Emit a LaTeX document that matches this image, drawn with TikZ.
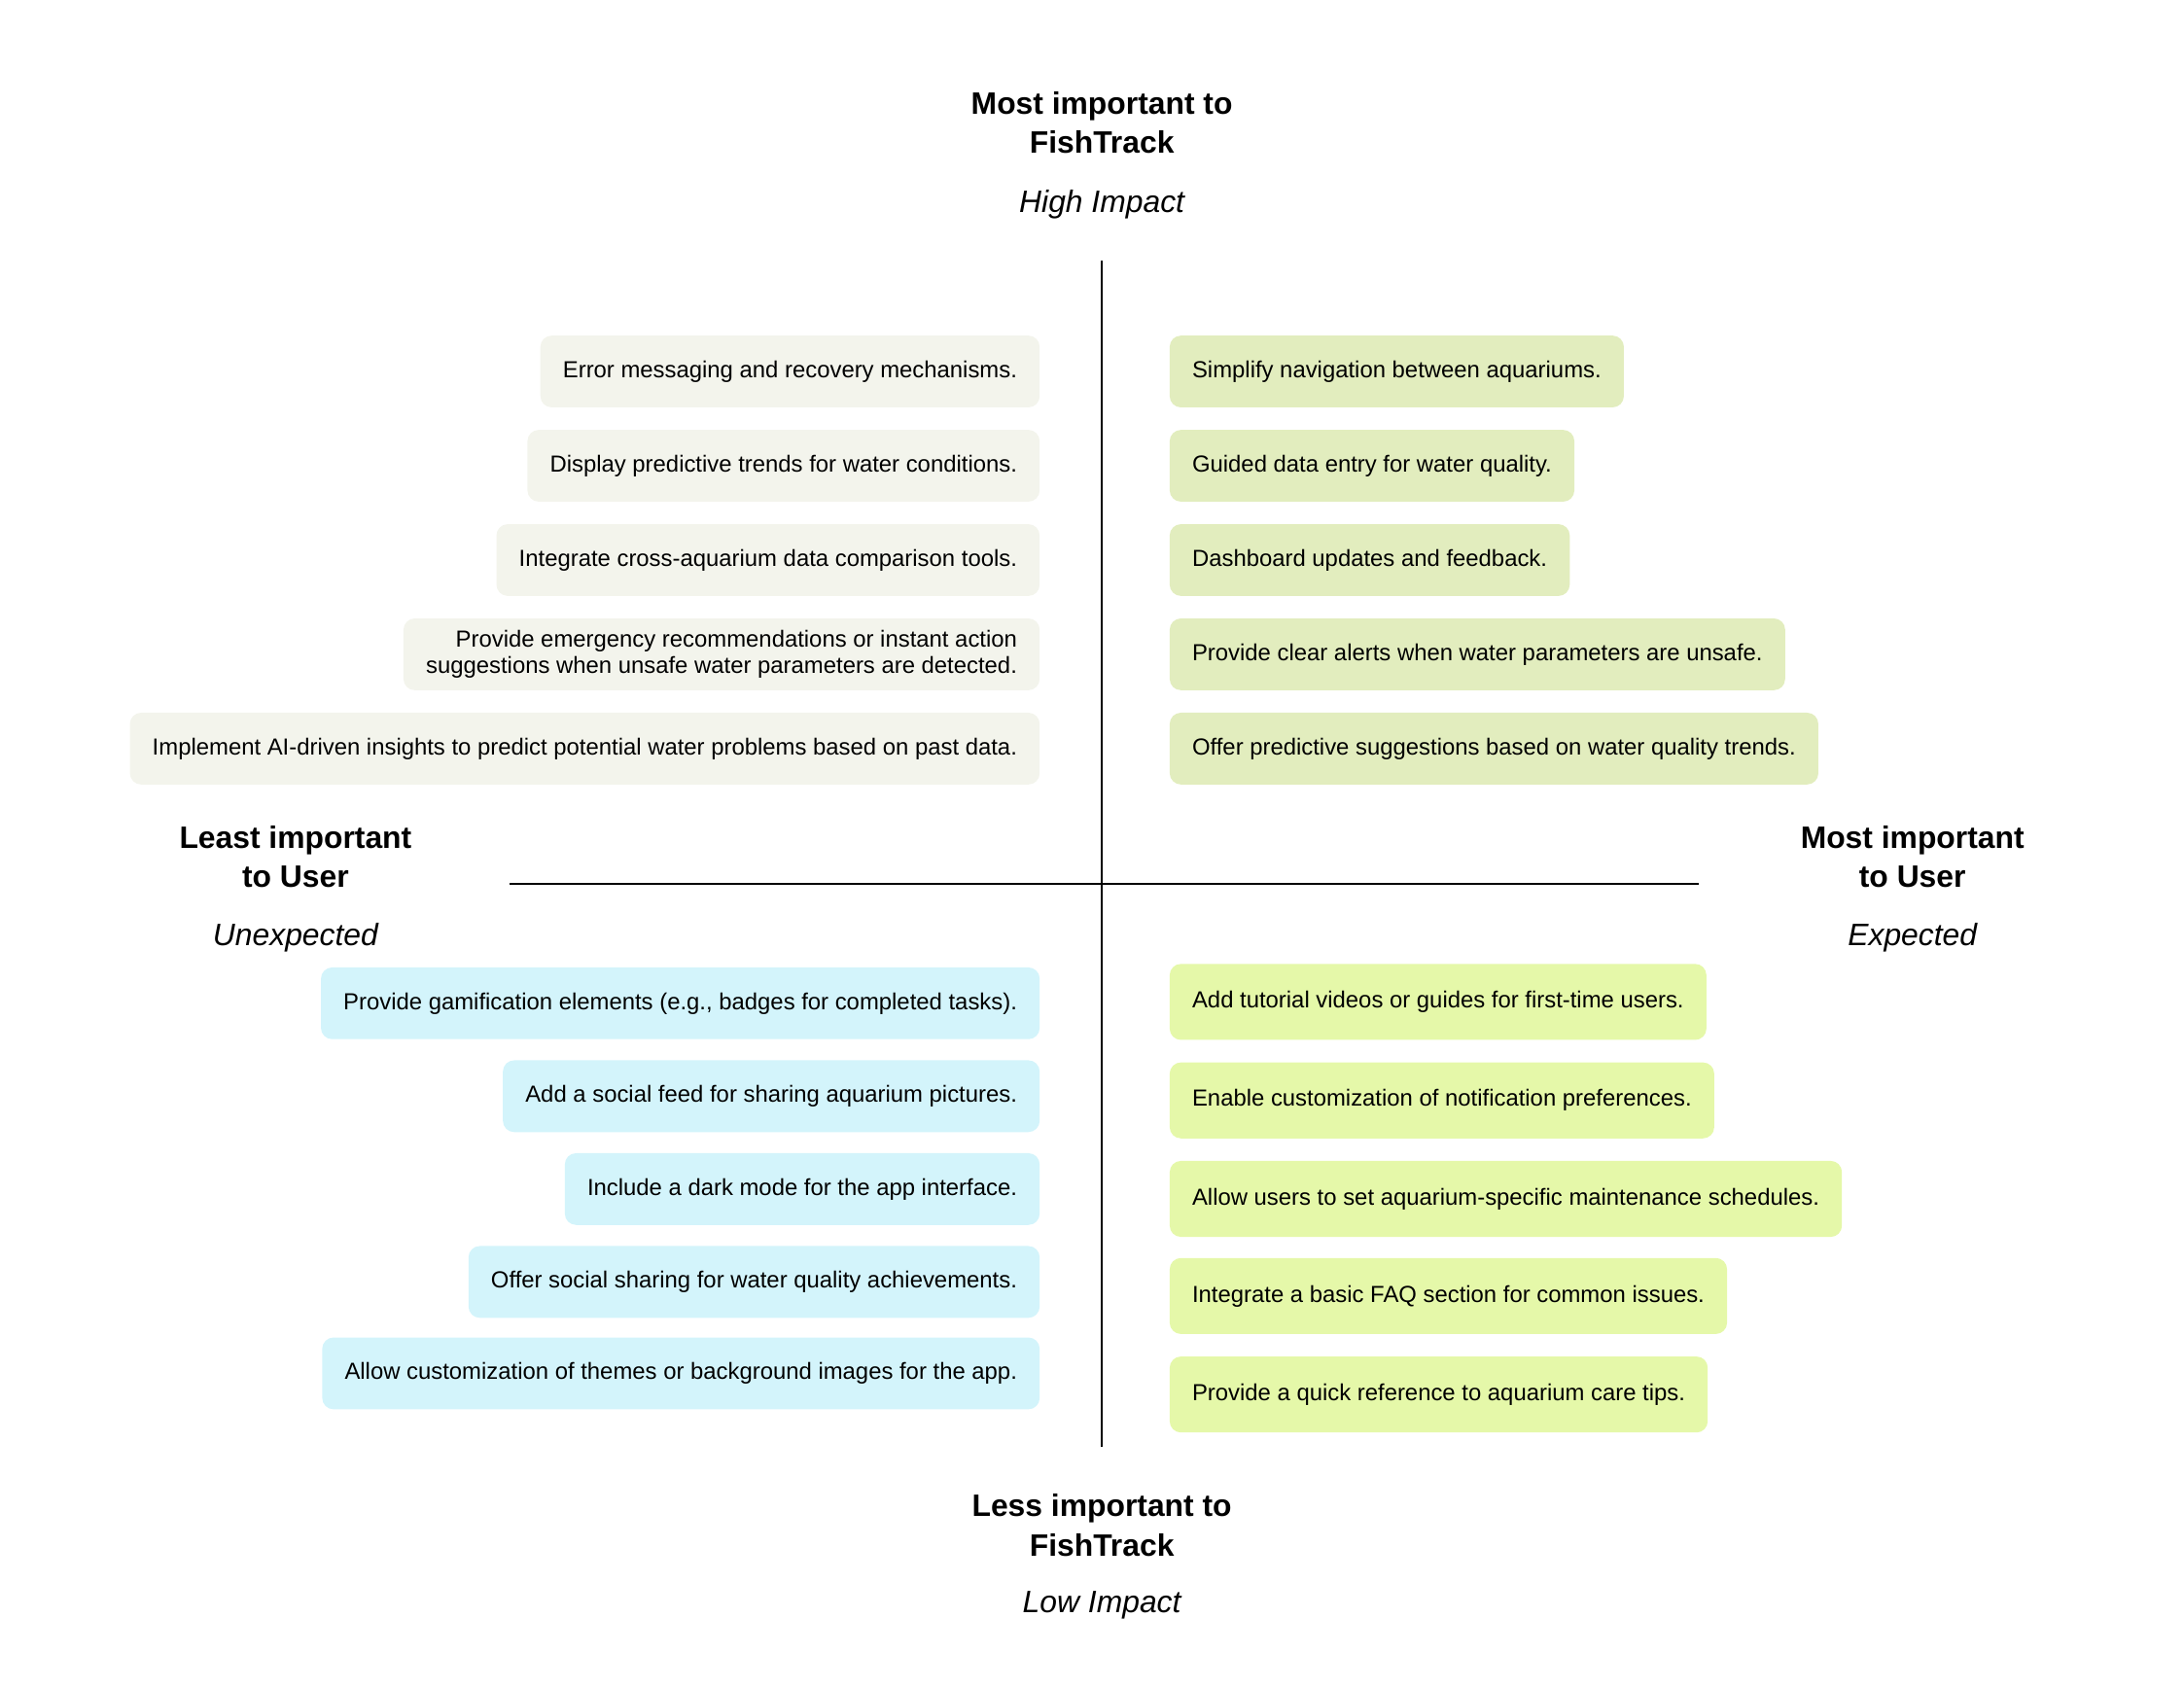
\documentclass[tikz,border=0pt]{standalone}
\usepackage{fontspec}
\setmainfont{Liberation Sans}
\usetikzlibrary{positioning}
\definecolor{paleleft}{HTML}{F3F4EC}
\definecolor{paleright}{HTML}{E2EDBE}
\definecolor{cyanleft}{HTML}{D3F4FB}
\definecolor{limeright}{HTML}{E5F8A9}
\tikzset{
  item/.style={rounded corners=8pt, inner xsep=16pt, minimum height=51pt,
    font=\fontsize{16.5}{19}\selectfont, align=right},
  hiwest/.style={item, anchor=east, fill=paleleft},
  hieast/.style={item, anchor=west, fill=paleright, align=left},
  lowest/.style={item, anchor=east, fill=cyanleft},
  loeast/.style={item, anchor=west, fill=limeright, align=left, minimum height=54pt},
  heading/.style={font=\fontsize{22}{28}\selectfont\bfseries, align=center},
  impact/.style={font=\fontsize{22}{28}\selectfont\itshape}
}
\begin{document}
\begin{tikzpicture}[x=1pt, y=-1pt]
  \useasboundingbox (0,0) rectangle (1552,1199);

  % axes
  \coordinate (top) at (783,185);
  \coordinate (bottom) at (783,1028);
  \coordinate (left) at (362,628);
  \coordinate (right) at (1207,628);
  \draw[line width=1.4pt] (top) -- (bottom);
  \draw[line width=1.4pt] (left) -- (right);

  % headings
  \node[heading] (hitop) at (783,87) {Most important to\\FishTrack};
  \node[impact] (hiimp) at (783,145) {High Impact};
  \node[heading] (lobot) at (783,1084) {Less important to\\FishTrack};
  \node[impact] (loimp) at (783,1141) {Low Impact};
  \node[heading] (leastuser) at (210,609) {Least important\\to User};
  \node[impact] (unexp) at (210,666) {Unexpected};
  \node[heading] (mostuser) at (1359,609) {Most important\\to User};
  \node[impact] (exp) at (1359,666) {Expected};

  % high impact, left
  \node[hiwest] (hl1) at (739,264) {Error messaging and recovery mechanisms.};
  \node[hiwest] (hl2) at (739,331) {Display predictive trends for water conditions.};
  \node[hiwest] (hl3) at (739,398) {Integrate cross-aquarium data comparison tools.};
  \node[hiwest] (hl4) at (739,465) {Provide emergency recommendations or instant action\\suggestions when unsafe water parameters are detected.};
  \node[hiwest] (hl5) at (739,532) {Implement AI-driven insights to predict potential water problems based on past data.};

  % high impact, right
  \node[hieast] (hr1) at (831,264) {Simplify navigation between aquariums.};
  \node[hieast] (hr2) at (831,331) {Guided data entry for water quality.};
  \node[hieast] (hr3) at (831,398) {Dashboard updates and feedback.};
  \node[hieast] (hr4) at (831,465) {Provide clear alerts when water parameters are unsafe.};
  \node[hieast] (hr5) at (831,532) {Offer predictive suggestions based on water quality trends.};

  % low impact, left
  \node[lowest] (ll1) at (739,713) {Provide gamification elements (e.g., badges for completed tasks).};
  \node[lowest] (ll2) at (739,779) {Add a social feed for sharing aquarium pictures.};
  \node[lowest] (ll3) at (739,845) {Include a dark mode for the app interface.};
  \node[lowest] (ll4) at (739,911) {Offer social sharing for water quality achievements.};
  \node[lowest] (ll5) at (739,976) {Allow customization of themes or background images for the app.};

  % low impact, right
  \node[loeast] (lr1) at (831,712) {Add tutorial videos or guides for first-time users.};
  \node[loeast] (lr2) at (831,782) {Enable customization of notification preferences.};
  \node[loeast] (lr3) at (831,852) {Allow users to set aquarium-specific maintenance schedules.};
  \node[loeast] (lr4) at (831,921) {Integrate a basic FAQ section for common issues.};
  \node[loeast] (lr5) at (831,991) {Provide a quick reference to aquarium care tips.};
\end{tikzpicture}
\end{document}
